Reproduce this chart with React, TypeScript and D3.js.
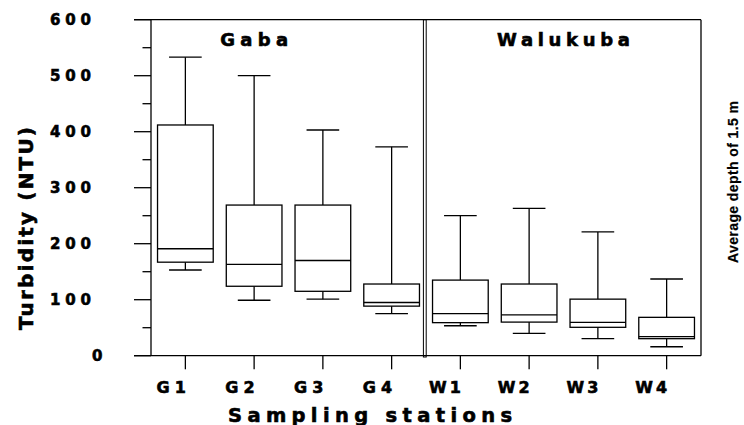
import React from "react";
import * as d3 from "d3";

const stations = ["G1", "G2", "G3", "G4", "W1", "W2", "W3", "W4"];
const whiskerHigh = [533, 500, 403, 373, 250, 263, 221, 137];
const q3Values = [412, 269, 269, 128, 135, 128, 101, 68.5];
const medianValues = [191, 163, 170, 95, 75, 73, 59.6, 34];
const q1Values = [167, 124, 115, 88.5, 59, 60, 50.7, 30.4];
const whiskerLow = [153, 99, 101, 75, 53.5, 40, 30.4, 16];
const yMajorTicks = [0, 100, 200, 300, 400, 500, 600];
const yMinorTicks = [50, 150, 250, 350, 450, 550];
const groupTitles = ["Gaba", "Walukuba"];

const W = 744;
const H = 425;
const left = 151;
const right = 701;
const top = 19.7;
const bottom = 355.7;
const FONT = "'DejaVu Sans', sans-serif";

export default function App() {
  const x = d3.scaleBand<string>().domain(stations).range([left, right]).paddingInner(0).paddingOuter(0);
  const y = d3.scaleLinear().domain([0, 600]).range([bottom, top]);
  const bw = x.bandwidth();
  const boxW = bw * 0.81;
  const capW = bw * 0.475;
  const cx = (s: string) => (x(s) as number) + bw / 2;
  const divX = x("W1") as number;
  const sw = 1.3;

  return (
    <svg width={W} height={H} style={{ position: "absolute", left: 0, top: 0, background: "#fff" }}>
      {/* frame */}
      <line x1={134} x2={right} y1={y(600)} y2={y(600)} stroke="#000" strokeWidth={sw} />
      <line x1={134} x2={right} y1={y(0)} y2={y(0)} stroke="#000" strokeWidth={sw} />
      <line x1={left} x2={left} y1={y(600)} y2={y(0)} stroke="#000" strokeWidth={sw} />
      <line x1={right} x2={right} y1={y(600)} y2={y(0)} stroke="#000" strokeWidth={sw} />
      {/* divider */}
      <rect x={divX - 2.6} y={y(600)} width={2.8} height={y(0) - y(600) + 1.3} fill="none" stroke="#000" strokeWidth={1} />
      {/* y ticks */}
      {yMajorTicks.map((t) => (
        <g key={"ym" + t}>
          <line x1={134} x2={left} y1={y(t)} y2={y(t)} stroke="#000" strokeWidth={sw} />
          <text
            x={t === 0 ? 102.5 : 91}
            y={y(t) + 5.6}
            textAnchor="end"
            fontFamily={FONT}
            fontWeight="bold"
            fontSize={15}
            stroke="#000"
            strokeWidth={0.6}
            textLength={t === 0 ? undefined : 41}
            lengthAdjust="spacing"
          >
            {t}
          </text>
        </g>
      ))}
      {yMinorTicks.map((t) => (
        <line key={"yn" + t} x1={142.5} x2={left} y1={y(t)} y2={y(t)} stroke="#000" strokeWidth={sw} />
      ))}
      {/* x ticks */}
      {stations.map((s) => (
        <g key={"xt" + s}>
          <line x1={cx(s)} x2={cx(s)} y1={y(0)} y2={y(0) + 13.6} stroke="#000" strokeWidth={sw} />
          <text
            x={cx(s) + 0.5}
            y={392.5}
            textAnchor="end"
            fontFamily={FONT}
            fontWeight="bold"
            fontSize={16}
            stroke="#000"
            strokeWidth={0.6}
            textLength={s.startsWith("G") ? 29.5 : 32}
            lengthAdjust="spacing"
          >
            {s}
          </text>
        </g>
      ))}
      {/* boxes */}
      {stations.map((s, i) => {
        const c = cx(s);
        return (
          <g key={"b" + s} stroke="#000" strokeWidth={sw} fill="none">
            <line x1={c} x2={c} y1={y(whiskerHigh[i])} y2={y(q3Values[i])} />
            <line x1={c} x2={c} y1={y(q1Values[i])} y2={y(whiskerLow[i])} />
            <line x1={c - capW / 2} x2={c + capW / 2} y1={y(whiskerHigh[i])} y2={y(whiskerHigh[i])} />
            <line x1={c - capW / 2} x2={c + capW / 2} y1={y(whiskerLow[i])} y2={y(whiskerLow[i])} />
            <rect x={c - boxW / 2} y={y(q3Values[i])} width={boxW} height={y(q1Values[i]) - y(q3Values[i])} fill="#fff" />
            <line x1={c - boxW / 2} x2={c + boxW / 2} y1={y(medianValues[i])} y2={y(medianValues[i])} />
          </g>
        );
      })}
      {/* group titles */}
      <text x={cx("G2") - 34} y={46} fontFamily={FONT} fontWeight="bold" fontSize={18} stroke="#000" strokeWidth={0.6}
        textLength={68} lengthAdjust="spacing">{groupTitles[0]}</text>
      <text x={((cx("W2") + cx("W3")) / 2) - 66.5} y={46} fontFamily={FONT} fontWeight="bold" fontSize={18} stroke="#000" strokeWidth={0.6}
        textLength={133} lengthAdjust="spacing">{groupTitles[1]}</text>
      {/* axis titles */}
      <text x={228} y={421.5} fontFamily={FONT} fontWeight="bold" fontSize={19.5} stroke="#000" strokeWidth={0.6}
        textLength={284} lengthAdjust="spacing">Sampling stations</text>
      <text transform={`translate(32.5, ${330}) rotate(-90)`} fontFamily={FONT} fontWeight="bold" fontSize={20} stroke="#000" strokeWidth={0.6}
        textLength={203} lengthAdjust="spacing">Turbidity (NTU)</text>
      <text transform={`translate(738, ${263}) rotate(-90)`} fontFamily="'Liberation Sans', Arial, sans-serif" fontWeight="bold" fontSize={14}
        stroke="#000" strokeWidth={0.2} textLength={162} lengthAdjust="spacing">Average depth of 1.5 m</text>
    </svg>
  );
}
